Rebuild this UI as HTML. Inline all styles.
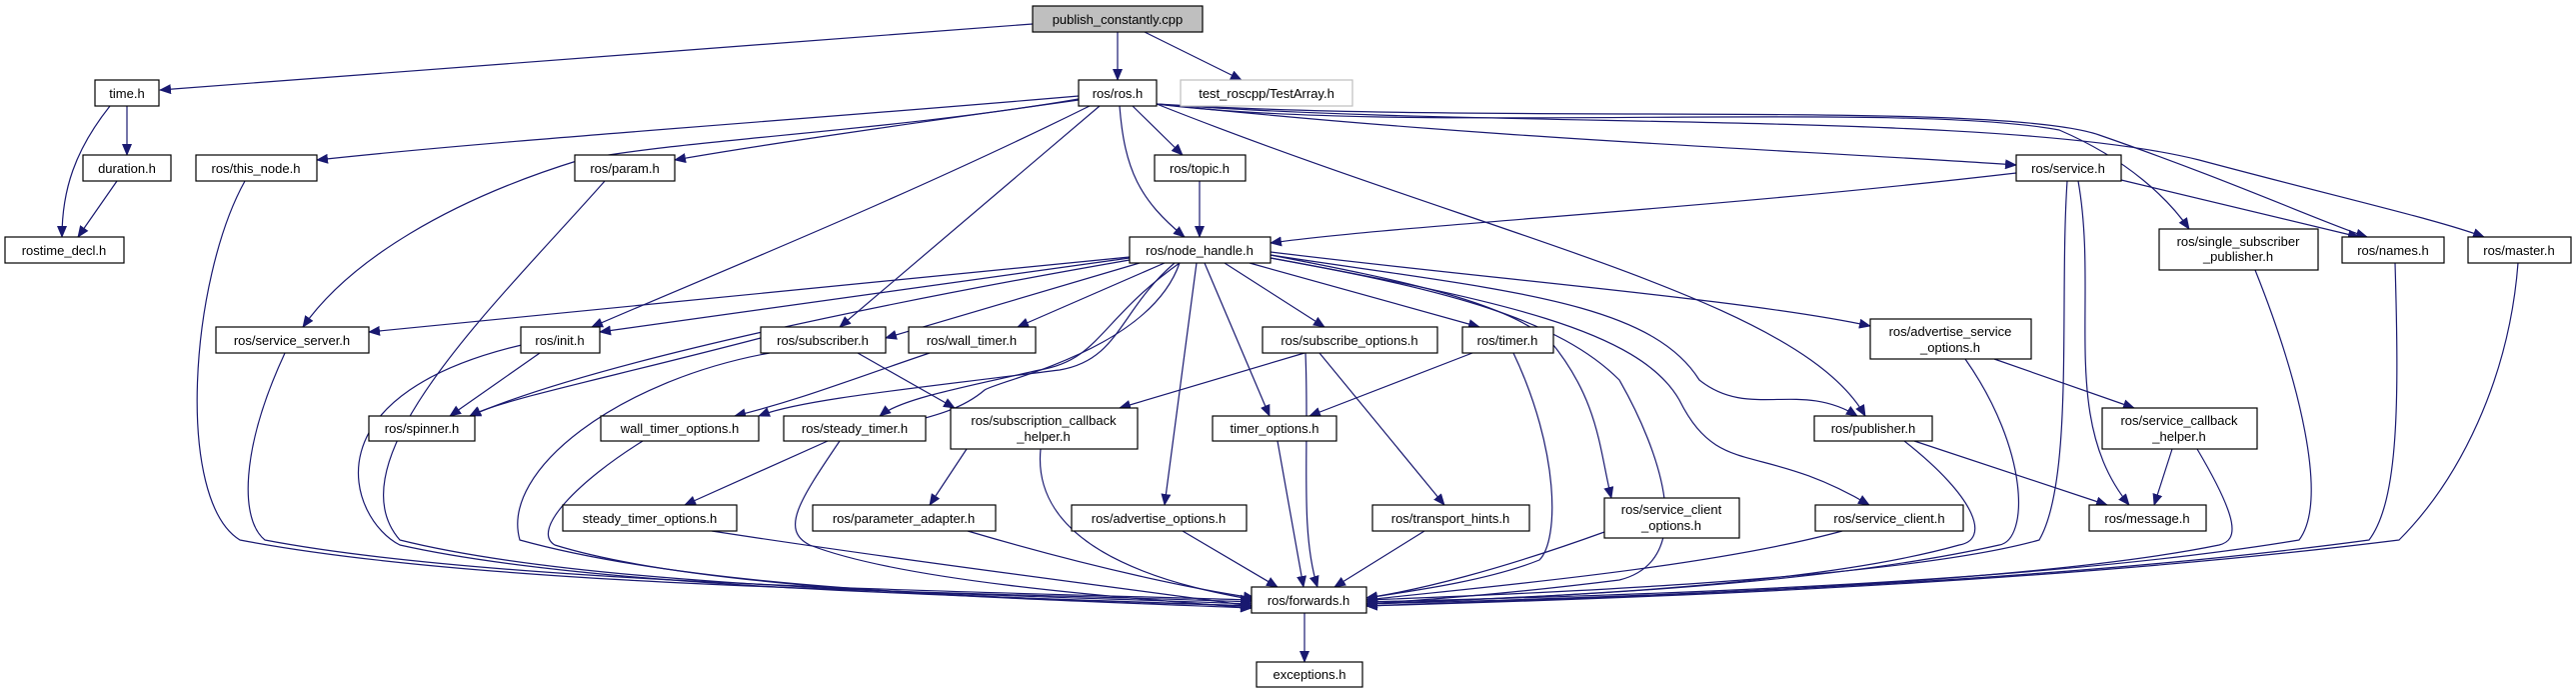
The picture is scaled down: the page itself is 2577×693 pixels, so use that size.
<!DOCTYPE html>
<html><head><meta charset="utf-8"><style>
html,body{margin:0;padding:0;background:#fff;}
svg{display:block;}
text{font-family:"Liberation Sans","DejaVu Sans",sans-serif;font-size:13px;fill:#000;text-anchor:middle;}
.n{fill:#fff;stroke:#000;stroke-width:1.2;}
.e{fill:none;stroke:#191970;stroke-width:1.2;marker-end:url(#a);}
</style></head><body>
<svg width="2577" height="693" viewBox="0 0 2577 693" xmlns="http://www.w3.org/2000/svg">
<defs><marker id="a" markerUnits="userSpaceOnUse" markerWidth="12" markerHeight="10" refX="11" refY="5" orient="auto"><path d="M0,0 L12,5 L0,10 z" fill="#191970"/></marker></defs>

<g>
<path class="e" d="M1033,24 L160,90"/>
<path class="e" d="M1118,32 L1118,80"/>
<path class="e" d="M1145,32 L1242,80"/>
<path class="e" d="M127,106 L127,155"/>
<path class="e" d="M110,106 C75,150 62,190 62,237"/>
<path class="e" d="M117,181 L78,237"/>
<path class="e" d="M1079,96 C800,120 500,140 317,160"/>
<path class="e" d="M1079,100 C900,125 760,145 675,160"/>
<path class="e" d="M1079,99 C900,130 680,140 580,160 C450,200 350,260 303,327"/>
<path class="e" d="M1090,106 C900,200 700,280 592,327"/>
<path class="e" d="M1100,106 L840,327"/>
<path class="e" d="M1133,106 L1183,155"/>
<path class="e" d="M1120,106 C1125,170 1140,200 1185,237"/>
<path class="e" d="M1157,104 C1500,240 1800,300 1866,416"/>
<path class="e" d="M1157,104 C1500,140 1800,150 2017,165"/>
<path class="e" d="M1157,104 C1400,135 1900,100 2060,130 C2130,160 2170,200 2190,229"/>
<path class="e" d="M1157,104 C1500,125 2000,100 2100,135 C2230,180 2330,225 2368,237"/>
<path class="e" d="M1157,104 C1500,130 2000,110 2200,160 C2350,200 2440,220 2485,237"/>
<path class="e" d="M1200,181 L1200,237"/>
<path class="e" d="M2017,173 C1700,210 1400,225 1271,243"/>
<path class="e" d="M2122,180 L2360,237"/>
<path class="e" d="M2079,181 C2100,300 2060,420 2130,505"/>
<path class="e" d="M2068,181 C2060,300 2075,480 2040,540 C1900,580 1500,595 1367,600"/>
<path class="e" d="M2256,270 C2300,380 2330,500 2300,540 C2000,590 1500,598 1367,602"/>
<path class="e" d="M2396,263 C2400,400 2400,500 2370,540 C2000,590 1500,600 1367,604"/>
<path class="e" d="M2519,263 C2510,380 2460,480 2400,540 C2000,590 1500,602 1367,606"/>
<path class="e" d="M245,181 C190,280 175,500 240,540 C500,590 1000,592 1252,602"/>
<path class="e" d="M605,181 C500,300 330,460 400,540 C600,590 1000,594 1252,604"/>
<path class="e" d="M285,353 C240,450 240,520 265,540 C500,585 1000,592 1252,600"/>
<path class="e" d="M540,341 C300,390 350,520 400,545 C600,590 1000,596 1252,606"/>
<path class="e" d="M540,353 L450,416"/>
<path class="e" d="M761,338 C600,380 500,400 470,416"/>
<path class="e" d="M858,353 L955,408"/>
<path class="e" d="M770,353 C620,380 500,470 520,540 C700,590 1000,598 1252,606"/>
<path class="e" d="M930,353 C850,380 800,400 735,416"/>
<path class="e" d="M643,441 C580,480 530,530 555,545 C700,590 1000,598 1252,608"/>
<path class="e" d="M828,441 L685,505"/>
<path class="e" d="M840,441 C800,500 780,530 810,545 C900,580 1100,596 1252,608"/>
<path class="e" d="M712,531 C900,560 1100,585 1252,606"/>
<path class="e" d="M967,449 L930,505"/>
<path class="e" d="M1041,449 C1030,560 1200,590 1255,600"/>
<path class="e" d="M968,531 C1100,570 1200,590 1255,598"/>
<path class="e" d="M1183,531 L1278,587"/>
<path class="e" d="M1425,531 L1335,587"/>
<path class="e" d="M1605,532 C1500,570 1420,590 1367,598"/>
<path class="e" d="M1843,531 C1700,570 1450,590 1367,600"/>
<path class="e" d="M1278,441 L1304,587"/>
<path class="e" d="M1305,613 L1305,662"/>
<path class="e" d="M1306,353 C1310,450 1300,530 1318,587"/>
<path class="e" d="M1320,353 L1445,505"/>
<path class="e" d="M1305,353 L1120,408"/>
<path class="e" d="M1473,353 L1310,416"/>
<path class="e" d="M1514,353 C1560,450 1560,540 1540,560 C1490,580 1420,590 1367,598"/>
<path class="e" d="M1995,359 L2135,408"/>
<path class="e" d="M1966,359 C2030,450 2030,540 2000,545 C1800,590 1500,598 1367,604"/>
<path class="e" d="M1905,441 C1980,500 1990,540 1960,545 C1800,590 1500,598 1367,604"/>
<path class="e" d="M1915,441 L2108,505"/>
<path class="e" d="M2173,449 L2155,505"/>
<path class="e" d="M2198,449 C2240,520 2240,540 2220,545 C2000,590 1500,600 1367,606"/>
<!-- node_handle fan-out -->
<path class="e" d="M1130,257 L369,332"/>
<path class="e" d="M1130,258 L600,332"/>
<path class="e" d="M1130,260 C900,300 600,360 470,416"/>
<path class="e" d="M1140,263 L886,338"/>
<path class="e" d="M1165,263 L1018,327"/>
<path class="e" d="M1175,263 C1120,310 1120,360 1060,370 C900,390 800,400 759,416"/>
<path class="e" d="M1180,263 C1100,320 1100,360 1040,370 C950,390 900,400 880,416"/>
<path class="e" d="M1197,263 L1165,505"/>
<path class="e" d="M1205,263 L1270,416"/>
<path class="e" d="M1225,263 L1325,327"/>
<path class="e" d="M1250,263 L1480,327"/>
<path class="e" d="M1271,255 C1400,280 1500,300 1550,340 C1600,400 1600,450 1612,498"/>
<path class="e" d="M1271,258 C1450,290 1560,320 1620,380 C1660,450 1700,560 1620,580 C1500,595 1420,600 1367,604"/>
<path class="e" d="M1271,258 C1500,300 1640,330 1680,400 C1720,480 1760,440 1870,505"/>
<path class="e" d="M1271,255 C1500,290 1650,300 1700,380 C1750,420 1800,380 1858,416"/>
<path class="e" d="M1271,252 C1500,280 1750,300 1871,326"/>
<path class="e" d="M1180,263 C1150,350 1000,380 985,390 C950,420 900,420 850,440"/>
</g>

<g>
<rect x="1033" y="6" width="170" height="26" fill="#bfbfbf" stroke="#000" stroke-width="1.2"/><text x="1118" y="24">publish_constantly.cpp</text>
<rect class="n" x="1079" y="80" width="78" height="26"/><text x="1118" y="98">ros/ros.h</text>
<rect x="1181" y="80" width="172" height="26" fill="#fff" stroke="#bfbfbf" stroke-width="1.2"/><text x="1267" y="98">test_roscpp/TestArray.h</text>
<rect class="n" x="95" y="80" width="64" height="26"/><text x="127" y="98">time.h</text>
<rect class="n" x="83" y="155" width="88" height="26"/><text x="127" y="173">duration.h</text>
<rect class="n" x="5" y="237" width="119" height="26"/><text x="64" y="255">rostime_decl.h</text>
<rect class="n" x="196" y="155" width="121" height="26"/><text x="256" y="173">ros/this_node.h</text>
<rect class="n" x="575" y="155" width="100" height="26"/><text x="625" y="173">ros/param.h</text>
<rect class="n" x="1155" y="155" width="91" height="26"/><text x="1200" y="173">ros/topic.h</text>
<rect class="n" x="2017" y="155" width="105" height="26"/><text x="2069" y="173">ros/service.h</text>
<rect class="n" x="1130" y="237" width="141" height="26"/><text x="1200" y="255">ros/node_handle.h</text>
<rect class="n" x="2160" y="229" width="159" height="41"/><text x="2239" y="246">ros/single_subscriber</text><text x="2239" y="261">_publisher.h</text>
<rect class="n" x="2343" y="237" width="102" height="26"/><text x="2394" y="255">ros/names.h</text>
<rect class="n" x="2469" y="237" width="103" height="26"/><text x="2520" y="255">ros/master.h</text>
<rect class="n" x="216" y="327" width="153" height="26"/><text x="292" y="345">ros/service_server.h</text>
<rect class="n" x="521" y="327" width="79" height="26"/><text x="560" y="345">ros/init.h</text>
<rect class="n" x="761" y="327" width="125" height="26"/><text x="823" y="345">ros/subscriber.h</text>
<rect class="n" x="909" y="327" width="127" height="26"/><text x="972" y="345">ros/wall_timer.h</text>
<rect class="n" x="1263" y="327" width="175" height="26"/><text x="1350" y="345">ros/subscribe_options.h</text>
<rect class="n" x="1463" y="327" width="91" height="26"/><text x="1508" y="345">ros/timer.h</text>
<rect class="n" x="1871" y="319" width="161" height="40"/><text x="1951" y="336">ros/advertise_service</text><text x="1951" y="352">_options.h</text>
<rect class="n" x="369" y="416" width="106" height="25"/><text x="422" y="433">ros/spinner.h</text>
<rect class="n" x="601" y="416" width="158" height="25"/><text x="680" y="433">wall_timer_options.h</text>
<rect class="n" x="784" y="416" width="142" height="25"/><text x="855" y="433">ros/steady_timer.h</text>
<rect class="n" x="951" y="408" width="187" height="41"/><text x="1044" y="425">ros/subscription_callback</text><text x="1044" y="441">_helper.h</text>
<rect class="n" x="1213" y="416" width="124" height="25"/><text x="1275" y="433">timer_options.h</text>
<rect class="n" x="1815" y="416" width="118" height="25"/><text x="1874" y="433">ros/publisher.h</text>
<rect class="n" x="2103" y="408" width="155" height="41"/><text x="2180" y="425">ros/service_callback</text><text x="2180" y="441">_helper.h</text>
<rect class="n" x="563" y="505" width="174" height="26"/><text x="650" y="523">steady_timer_options.h</text>
<rect class="n" x="813" y="505" width="183" height="26"/><text x="904" y="523">ros/parameter_adapter.h</text>
<rect class="n" x="1072" y="505" width="175" height="26"/><text x="1159" y="523">ros/advertise_options.h</text>
<rect class="n" x="1373" y="505" width="157" height="26"/><text x="1451" y="523">ros/transport_hints.h</text>
<rect class="n" x="1605" y="498" width="135" height="40"/><text x="1672" y="514">ros/service_client</text><text x="1672" y="530">_options.h</text>
<rect class="n" x="1816" y="505" width="148" height="26"/><text x="1890" y="523">ros/service_client.h</text>
<rect class="n" x="2090" y="505" width="117" height="26"/><text x="2148" y="523">ros/message.h</text>
<rect class="n" x="1252" y="587" width="115" height="26"/><text x="1309" y="605">ros/forwards.h</text>
<rect class="n" x="1257" y="662" width="106" height="25"/><text x="1310" y="679">exceptions.h</text>
</g>
</svg>
</body></html>
